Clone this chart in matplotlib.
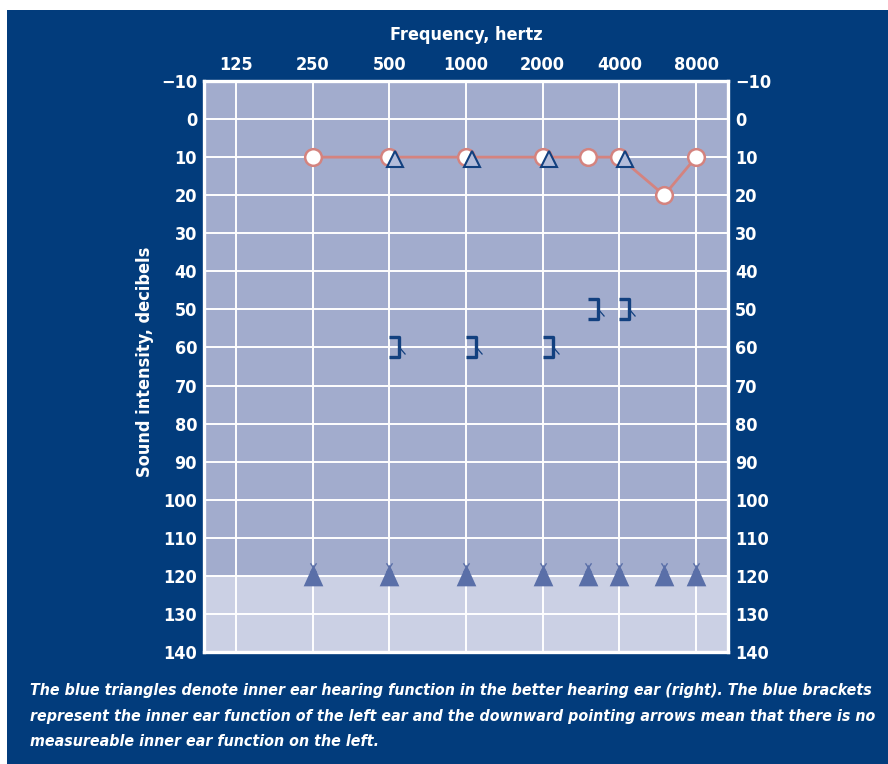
import matplotlib
matplotlib.use('Agg')
import matplotlib.pyplot as plt
from matplotlib import font_manager
from matplotlib.path import Path
from matplotlib.patches import Rectangle

# pick a narrow font if there is one
entries = font_manager.fontManager.ttflist
names = {f.name for f in entries}
STRETCH = 'normal'
if any(f.name == 'DejaVu Sans' and str(f.stretch) == 'condensed' for f in entries):
    FONT = ['DejaVu Sans']
    STRETCH = 'condensed'
elif 'Roboto Condensed' in names:
    FONT = ['Roboto Condensed', 'DejaVu Sans']
elif 'Liberation Sans Narrow' in names:
    FONT = ['Liberation Sans Narrow', 'DejaVu Sans']
else:
    FONT = ['Roboto', 'DejaVu Sans']
plt.rcParams['font.family'] = FONT
plt.rcParams['font.stretch'] = STRETCH

# --- data ---
tick_freqs = [125, 250, 500, 1000, 2000, 4000, 8000]
db_ticks = list(range(-10, 141, 10))

right_air_freqs = [250, 500, 1000, 2000, 3000, 4000, 6000, 8000]
right_air_db = [10, 10, 10, 10, 10, 10, 20, 10]

right_bone_freqs = [500, 1000, 2000, 4000]
right_bone_db = [10, 10, 10, 10]

left_bone_freqs = [500, 1000, 2000, 3000, 4000]
left_bone_db = [60, 60, 60, 50, 50]

no_response_freqs = [250, 500, 1000, 2000, 3000, 4000, 6000, 8000]
no_response_db = [120, 120, 120, 120, 120, 120, 120, 120]
no_response_limit = 120

caption = [
    "The blue triangles denote inner ear hearing function in the better hearing ear (right). The blue brackets",
    "represent the inner ear function of the left ear and the downward pointing arrows mean that there is no",
    "measureable inner ear function on the left.",
]

navy = '#023c7c'
plot_bg = '#a2accd'
low_bg = '#cbd0e4'
pink = '#d4837f'
dark = '#12407f'
tri_fill = '#5a6fa8'

W, H = 888, 764
fig = plt.figure(figsize=(W / 100, H / 100), dpi=100)
fig.patch.set_facecolor('white')
fig.patches.append(Rectangle((7 / W, 0), 1 - 7 / W, 1 - 10 / H, transform=fig.transFigure,
                             facecolor=navy, edgecolor='none', zorder=-10))

ax = fig.add_axes([204 / W, 1 - 652 / H, (728 - 204) / W, (652 - 81) / H])
ax.set_facecolor(plot_bg)
ax.set_xscale('log', base=2)
ax.set_xlim(125 * 2 ** -0.417, 8000 * 2 ** 0.417)
ax.set_ylim(140, -10)
ax.axhspan(no_response_limit, 140, color=low_bg, zorder=0.2)

ax.set_xticks(tick_freqs)
ax.set_xticklabels([str(f) for f in tick_freqs])
ax.xaxis.set_minor_locator(matplotlib.ticker.NullLocator())
ax.set_yticks(db_ticks)
ax.set_yticklabels([f"\u2212{abs(v)}" if v < 0 else str(v) for v in db_ticks])
ax.xaxis.tick_top()
ax.tick_params(axis='x', length=0, pad=5, labelsize=13, labelcolor='white')
ax.tick_params(axis='y', length=0, pad=5, labelsize=13, labelcolor='white',
               left=True, right=True, labelleft=True, labelright=True)
for lab in ax.get_xticklabels() + ax.get_yticklabels():
    lab.set_fontweight('bold')
ax.grid(True, color='white', linewidth=1.4, zorder=0.5)
ax.set_axisbelow(True)
for sp in ax.spines.values():
    sp.set_color('white')
    sp.set_linewidth(2.4)

# right ear air conduction
ax.plot(right_air_freqs, right_air_db, color=pink, linewidth=2, zorder=3)
ax.plot(right_air_freqs, right_air_db, linestyle='none', marker='o', markersize=12,
        markerfacecolor='white', markeredgecolor=pink, markeredgewidth=1.8, zorder=4)

# right ear bone conduction (drawn a little to the right)
shift = matplotlib.transforms.ScaledTranslation(6 / 100, -2 / 100, fig.dpi_scale_trans)
ax.plot(right_bone_freqs, right_bone_db, linestyle='none', marker='^', markersize=11,
        markerfacecolor='#b3bcda', markeredgecolor=dark, markeredgewidth=1.5, zorder=5,
        transform=ax.transData + shift)

# left ear masked bone conduction brackets "]" with small tail
bracket = Path([(16, 0), (0, 10), (10, 10), (10, -10), (0, -10)],
               [Path.MOVETO, Path.MOVETO, Path.LINETO, Path.LINETO, Path.LINETO])
tail = Path([(10, 0), (16, -7)], [Path.MOVETO, Path.LINETO])
ax.plot(left_bone_freqs, left_bone_db, linestyle='none', marker=bracket, markersize=23,
        markerfacecolor='none', markeredgecolor=dark, markeredgewidth=2.4, zorder=5)
ax.plot(left_bone_freqs, left_bone_db, linestyle='none', marker=tail, markersize=23,
        markerfacecolor='none', markeredgecolor=dark, markeredgewidth=0.9, zorder=5)

# no response markers at the limit
tent = Path([(-7.5, -7.5), (7.5, -7.5), (0, 9), (-7.5, -7.5)],
            [Path.MOVETO, Path.LINETO, Path.LINETO, Path.CLOSEPOLY])
cross = Path([(-3, 13), (3, 4), (3, 13), (-3, 4), (0, -13)],
             [Path.MOVETO, Path.LINETO, Path.MOVETO, Path.LINETO, Path.MOVETO])
ax.plot(no_response_freqs, no_response_db, linestyle='none', marker=tent, markersize=17,
        markerfacecolor=tri_fill, markeredgecolor='none', zorder=5)
ax.plot(no_response_freqs, no_response_db, linestyle='none', marker=cross, markersize=19,
        markerfacecolor='none', markeredgecolor=tri_fill, markeredgewidth=1, zorder=5)

fig.text(466 / W, 1 - 35 / H, 'Frequency, hertz', color='white', fontsize=13,
         fontweight='bold', ha='center', va='center')
fig.text(145 / W, 1 - 362 / H, 'Sound intensity, decibels', color='white', fontsize=13,
         fontweight='bold', ha='center', va='center', rotation=90)
cap_texts = []
for i, line in enumerate(caption):
    t = fig.text(30 / W, 1 - (690 + 26 * i) / H, line, color='white', fontsize=12.5,
                 fontweight='bold', style='italic', ha='left', va='center')
    cap_texts.append(t)

# shrink the caption so the first line spans the same width as in the original
renderer = fig.canvas.get_renderer()
w0 = cap_texts[0].get_window_extent(renderer).width
fs = min(12.5, 12.5 * 842 / w0)
for t in cap_texts:
    t.set_fontsize(fs)

fig.savefig('out.png', dpi=100, facecolor=fig.get_facecolor())
